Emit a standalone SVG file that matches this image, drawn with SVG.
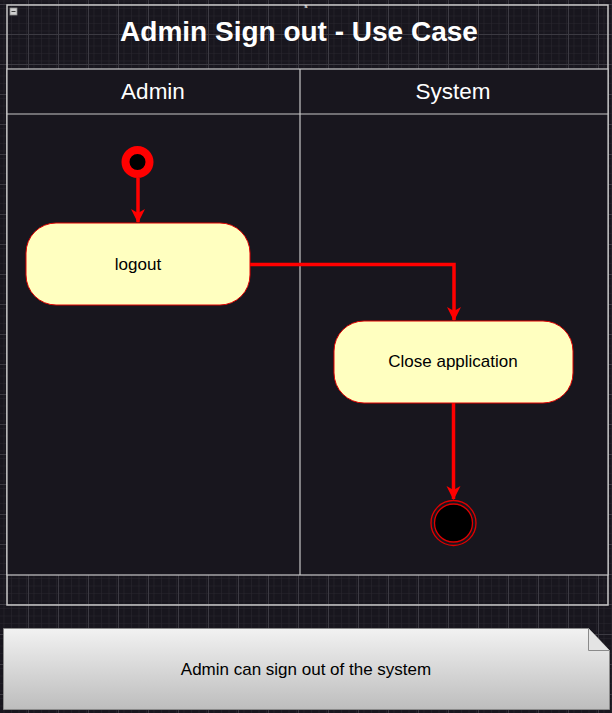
<svg xmlns="http://www.w3.org/2000/svg" width="612" height="713" viewBox="0 0 612 713">
<defs>
<pattern id="minor" width="7.5" height="7.5" patternUnits="userSpaceOnUse" x="-2" y="4">
<path d="M0 0H7.5M0 0V7.5" stroke="#2a2830" stroke-width="1" fill="none"/>
</pattern>
<pattern id="major" width="30" height="30" patternUnits="userSpaceOnUse" x="-2" y="4">
<rect width="30" height="30" fill="url(#minor)"/>
<path d="M0 0.5H30M0.5 0V30" stroke="#3c3a42" stroke-width="1" fill="none"/>
</pattern>
<linearGradient id="noteGrad" x1="0" y1="0" x2="0" y2="1">
<stop offset="0" stop-color="#f2f2f2"/>
<stop offset="1" stop-color="#bdbdbd"/>
</linearGradient>
<marker id="arrow" markerWidth="14" markerHeight="16" refX="13" refY="7" orient="auto" markerUnits="userSpaceOnUse">
<path d="M0 0L14 7L0 14L4 7Z" fill="#ff0000"/>
</marker>
<style>
.frame{fill:none;stroke:#c8c8c8;stroke-width:1.5}
.lane{fill:none;stroke:#c8c8c8;stroke-width:1.2}
.lbl{font-family:"Liberation Sans",Arial,sans-serif;fill:#ffffff;text-anchor:middle}
.act{fill:#ffffc0;stroke:#e00000;stroke-width:1}
.atxt{font-family:"Liberation Sans",Arial,sans-serif;font-size:17px;fill:#000000;text-anchor:middle}
.edge{fill:none;stroke:#ff0000;stroke-width:3.5;marker-end:url(#arrow)}
</style>
</defs>
<rect width="612" height="713" fill="#18161e"/>
<rect width="612" height="713" fill="url(#major)"/>

<g id="frame">
<rect class="frame" x="7" y="5" width="601" height="600"/>
<text class="lbl" x="299" y="41" font-size="28" font-weight="bold">Admin Sign out - Use Case</text>
<rect x="10" y="8" width="7" height="7" fill="#d0d0d0" stroke="#909090" stroke-width="0.8"/>
<line x1="11.5" y1="11.5" x2="15.5" y2="11.5" stroke="#404040" stroke-width="1"/>
<text x="306" y="8" font-family="Liberation Sans,Arial,sans-serif" font-size="6" font-weight="bold" fill="#ffffff" text-anchor="middle">s</text>
</g>

<g id="swimlanes">
<rect x="7" y="69" width="601" height="506" fill="#18161e"/>
<rect class="lane" x="7" y="69" width="601" height="506"/>
<line class="lane" x1="7" y1="114" x2="608" y2="114"/>
<line class="lane" x1="300" y1="69" x2="300" y2="575"/>
<text class="lbl" x="153" y="99" font-size="22.5">Admin</text>
<text class="lbl" x="453" y="99" font-size="22.5">System</text>
</g>

<g id="connectors">
<path class="edge" d="M138 178V222"/>
<path class="edge" d="M250 264.5H454V320"/>
<path class="edge" d="M453.5 403V499"/>
</g>

<g id="start">
<circle cx="137.5" cy="162" r="12" fill="#000000" stroke="#ff0000" stroke-width="8"/>
</g>

<g id="logout">
<rect class="act" x="26" y="223" width="224" height="82" rx="30" ry="30"/>
<text class="atxt" x="138" y="270">logout</text>
</g>

<g id="close">
<rect class="act" x="334" y="321" width="239" height="82" rx="30" ry="30"/>
<text class="atxt" x="453" y="367">Close application</text>
</g>

<g id="end">
<circle cx="453.5" cy="523" r="22.5" fill="none" stroke="#e00000" stroke-width="1.3"/>
<circle cx="453.5" cy="523" r="19" fill="#000000" stroke="#e00000" stroke-width="1.3"/>
</g>

<g id="note">
<path d="M3.5 628.5H588.5L609.5 650.5V709.5H3.5Z" fill="url(#noteGrad)" stroke="#8a8a8a" stroke-width="1"/>
<path d="M588.5 628.5V650.5H609.5" fill="#e4e4e4" stroke="#8a8a8a" stroke-width="1"/>
<text class="atxt" x="306" y="675">Admin can sign out of the system</text>
</g>
</svg>
